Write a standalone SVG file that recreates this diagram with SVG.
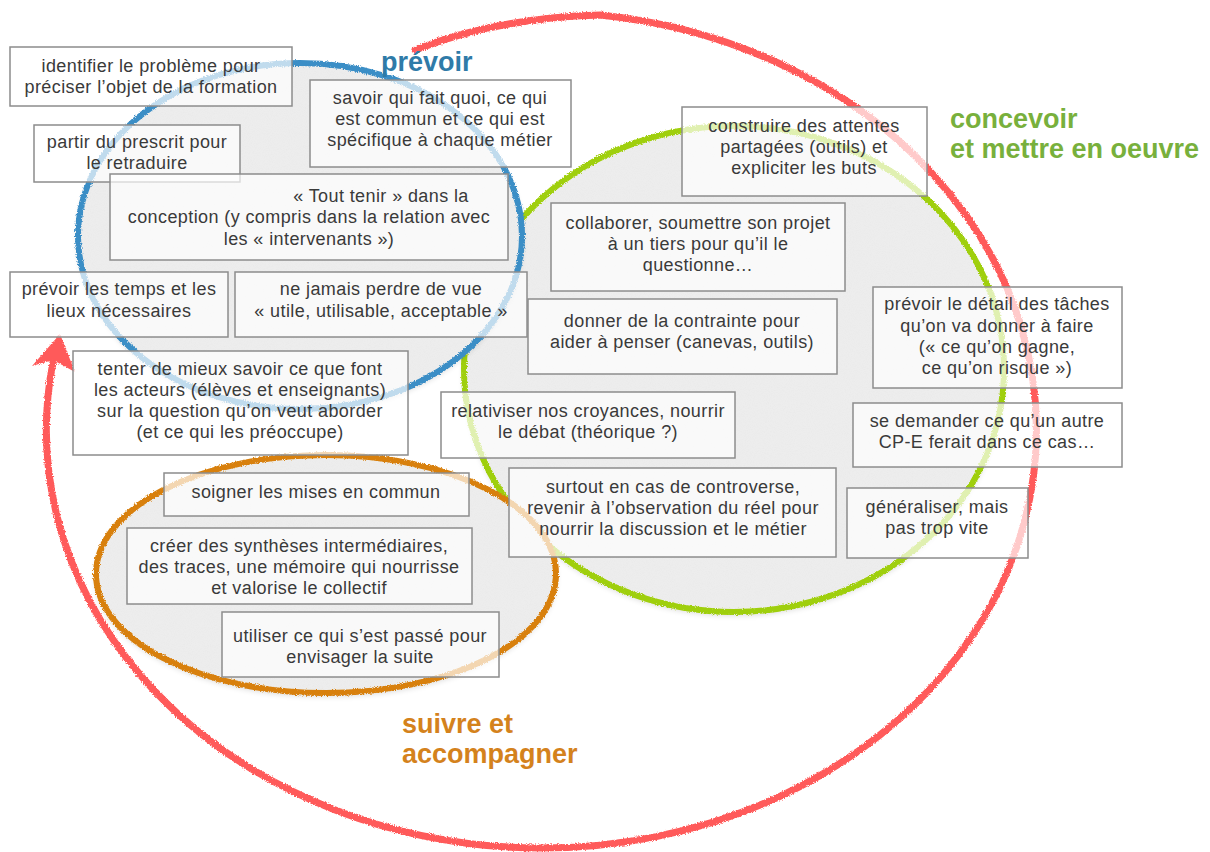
<svg xmlns="http://www.w3.org/2000/svg" width="1210" height="852" viewBox="0 0 1210 852">
<style>
.box rect{fill:#fff;fill-opacity:.68;stroke:#8c8c8c;stroke-width:1.5}
.box text{font-family:"Liberation Sans",Arial,Helvetica,sans-serif;font-size:18px;fill:#3a3a3a;text-anchor:middle;letter-spacing:.4px}
.lbl{font-family:"Liberation Sans",Arial,Helvetica,sans-serif;font-weight:bold;font-size:27px}
.zone{fill:#ededed}
.ring{fill:none;stroke-width:6}
</style>
<defs>
<filter id="chalk" x="-5%" y="-5%" width="110%" height="110%">
<feTurbulence type="fractalNoise" baseFrequency="0.9" numOctaves="2" seed="3" result="n"/>
<feDisplacementMap in="SourceGraphic" in2="n" scale="3.5" xChannelSelector="R" yChannelSelector="G"/>
</filter>
<filter id="zonef" x="-5%" y="-5%" width="110%" height="115%">
<feTurbulence type="fractalNoise" baseFrequency="0.95" numOctaves="2" seed="7" result="t"/>
<feColorMatrix in="t" type="matrix" values="0 0 0 0 0.72  0 0 0 0 0.72  0 0 0 0 0.72  0.45 0 0 0 -0.18" result="g"/>
<feComposite in="g" in2="SourceAlpha" operator="in" result="gi"/>
<feGaussianBlur in="SourceAlpha" stdDeviation="3" result="b"/>
<feOffset in="b" dy="3" result="o"/>
<feComponentTransfer in="o" result="s"><feFuncA type="linear" slope="0.18"/></feComponentTransfer>
<feMerge><feMergeNode in="s"/><feMergeNode in="SourceGraphic"/><feMergeNode in="gi"/></feMerge>
</filter>
</defs>

<g id="zones">
<g id="zone-concevoir">
<ellipse class="zone" cx="734" cy="369" rx="270" ry="243" filter="url(#zonef)"/>
<ellipse class="ring" cx="734" cy="369" rx="270" ry="243" stroke="#9fcf08" filter="url(#chalk)"/>
</g>
<g id="zone-prevoir">
<ellipse class="zone" cx="300" cy="236" rx="222" ry="173" filter="url(#zonef)"/>
<ellipse class="ring" cx="300" cy="236" rx="222" ry="173" stroke="#3b8ec6" filter="url(#chalk)"/>
</g>
<g id="zone-suivre">
<ellipse class="zone" cx="326" cy="574" rx="230" ry="119" filter="url(#zonef)"/>
<ellipse class="ring" cx="326" cy="574" rx="230" ry="119" stroke="#d8800d" filter="url(#chalk)"/>
</g>
</g>

<g id="connectors">
<path d="M 415 50 Q 495 18 600 15 A 495 418 0 1 1 53 362" fill="none" stroke="#ff5a5a" stroke-width="7" stroke-linecap="round" filter="url(#chalk)"/>
<polygon points="60,334 32,366 53,360 75,372" fill="#ff5a5a" filter="url(#chalk)"/>
</g>

<g id="n1" class="box"><rect x="10" y="47" width="282" height="59"/><text><tspan x="151" y="72">identifier le problème pour</tspan><tspan x="151" y="93">préciser l’objet de la formation</tspan></text></g>
<g id="n2" class="box"><rect x="310" y="80" width="261" height="87"/><text><tspan x="440" y="104">savoir qui fait quoi, ce qui</tspan><tspan x="440" y="125">est commun et ce qui est</tspan><tspan x="440" y="146">spécifique à chaque métier</tspan></text></g>
<g id="n3" class="box"><rect x="34" y="125" width="206" height="57"/><text><tspan x="137" y="148">partir du prescrit pour</tspan><tspan x="137" y="169">le retraduire</tspan></text></g>
<g id="n4" class="box"><rect x="110" y="174" width="398" height="86"/><text><tspan x="381" y="202">« Tout tenir » dans la</tspan><tspan x="309" y="223">conception (y compris dans la relation avec</tspan><tspan x="309" y="245">les « intervenants »)</tspan></text></g>
<g id="n5" class="box"><rect x="10" y="272" width="218" height="65"/><text><tspan x="119" y="295">prévoir les temps et les</tspan><tspan x="119" y="317">lieux nécessaires</tspan></text></g>
<g id="n6" class="box"><rect x="235" y="272" width="292" height="65"/><text><tspan x="381" y="295">ne jamais perdre de vue</tspan><tspan x="381" y="317">« utile, utilisable, acceptable »</tspan></text></g>
<g id="n7" class="box"><rect x="73" y="351" width="335" height="104"/><text><tspan x="240" y="375">tenter de mieux savoir ce que font</tspan><tspan x="240" y="396">les acteurs (élèves et enseignants)</tspan><tspan x="240" y="417">sur la question qu’on veut aborder</tspan><tspan x="240" y="438">(et ce qui les préoccupe)</tspan></text></g>
<g id="n8" class="box"><rect x="164" y="473" width="305" height="43"/><text><tspan x="316" y="498">soigner les mises en commun</tspan></text></g>
<g id="n9" class="box"><rect x="127" y="528" width="345" height="76"/><text><tspan x="299" y="552">créer des synthèses intermédiaires,</tspan><tspan x="299" y="573">des traces, une mémoire qui nourrisse</tspan><tspan x="299" y="594">et valorise le collectif</tspan></text></g>
<g id="n10" class="box"><rect x="222" y="612" width="277" height="65"/><text><tspan x="360" y="642">utiliser ce qui s’est passé pour</tspan><tspan x="360" y="663">envisager la suite</tspan></text></g>
<g id="n11" class="box"><rect x="682" y="107" width="245" height="89"/><text><tspan x="804" y="132">construire des attentes</tspan><tspan x="804" y="153">partagées (outils) et</tspan><tspan x="804" y="174">expliciter les buts</tspan></text></g>
<g id="n12" class="box"><rect x="551" y="203" width="294" height="88"/><text><tspan x="698" y="229">collaborer, soumettre son projet</tspan><tspan x="698" y="250">à un tiers pour qu’il le</tspan><tspan x="698" y="271">questionne…</tspan></text></g>
<g id="n13" class="box"><rect x="528" y="299" width="309" height="75"/><text><tspan x="682" y="327">donner de la contrainte pour</tspan><tspan x="682" y="348">aider à penser (canevas, outils)</tspan></text></g>
<g id="n14" class="box"><rect x="873" y="287" width="249" height="101"/><text><tspan x="997" y="310">prévoir le détail des tâches</tspan><tspan x="997" y="332">qu’on va donner à faire</tspan><tspan x="997" y="353">(« ce qu’on gagne,</tspan><tspan x="997" y="374">ce qu’on risque »)</tspan></text></g>
<g id="n15" class="box"><rect x="441" y="392" width="294" height="66"/><text><tspan x="588" y="417">relativiser nos croyances, nourrir</tspan><tspan x="588" y="438">le débat (théorique ?)</tspan></text></g>
<g id="n16" class="box"><rect x="853" y="403" width="269" height="64"/><text><tspan x="987" y="427">se demander ce qu’un autre</tspan><tspan x="987" y="448">CP-E ferait dans ce cas…</tspan></text></g>
<g id="n17" class="box"><rect x="509" y="468" width="327" height="89"/><text><tspan x="673" y="493">surtout en cas de controverse,</tspan><tspan x="673" y="514">revenir à l’observation du réel pour</tspan><tspan x="673" y="535">nourrir la discussion et le métier</tspan></text></g>
<g id="n18" class="box"><rect x="847" y="488" width="181" height="70"/><text><tspan x="937" y="513">généraliser, mais</tspan><tspan x="937" y="534">pas trop vite</tspan></text></g>

<g id="labels">
<text class="lbl" x="381" y="71" fill="#2f7ba8">prévoir</text>
<text class="lbl" x="950" y="128" fill="#78b03c"><tspan x="950" y="128">concevoir</tspan><tspan x="950" y="158">et mettre en oeuvre</tspan></text>
<text class="lbl" x="402" y="733" fill="#d4821c"><tspan x="402" y="733">suivre et</tspan><tspan x="402" y="763">accompagner</tspan></text>
</g>
</svg>
